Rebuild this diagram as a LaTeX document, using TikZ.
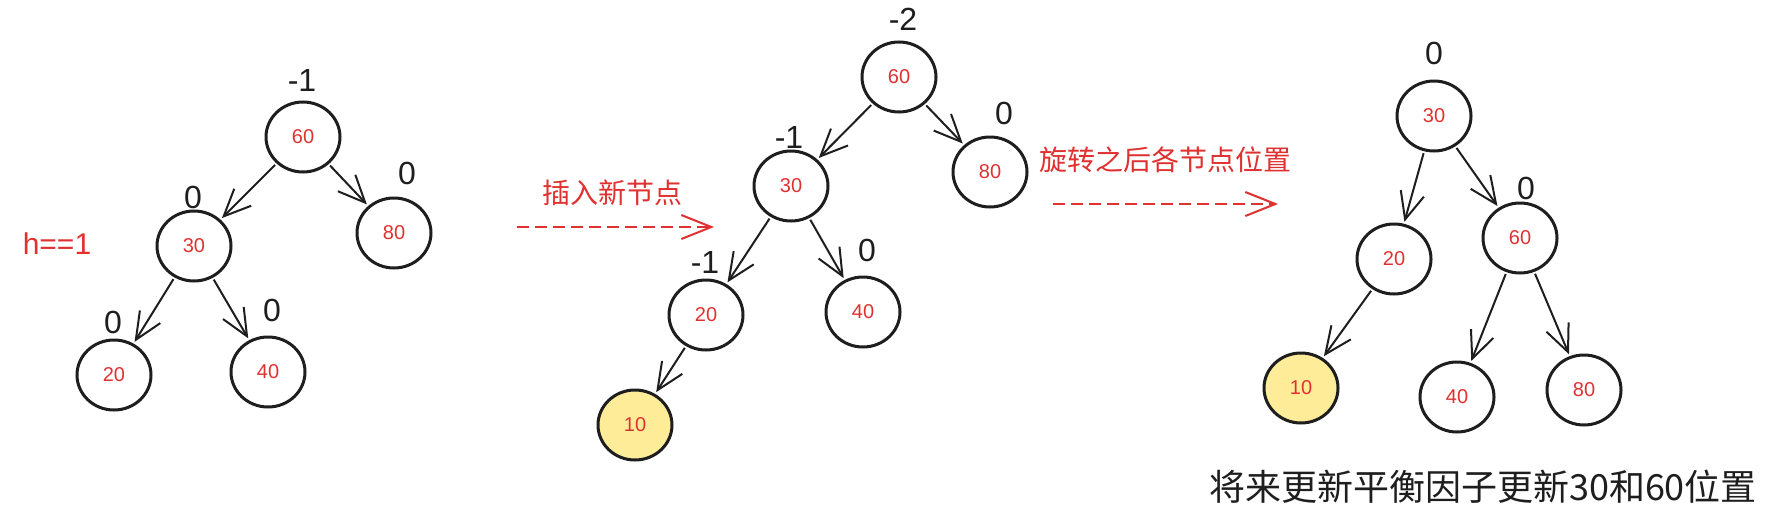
\documentclass[tikz,border=0pt]{standalone}
\usepackage{fontspec}
\setmainfont{Liberation Sans}
\newfontfamily\cjk{Noto Sans CJK SC}
\usetikzlibrary{arrows.meta,shapes.geometric}
\definecolor{exred}{HTML}{E03131}
\definecolor{exink}{HTML}{1E1E1E}
\definecolor{exyellow}{HTML}{FFEC99}
\begin{document}
\begin{tikzpicture}[x=1pt,y=-1pt,
  tnode/.style={ellipse,draw=exink,line width=3pt,minimum width=74pt,minimum height=70pt,inner sep=0pt,text=exred,font=\fontsize{20}{20}\selectfont},
  newnode/.style={tnode,fill=exyellow},
  bf/.style={text=exink,font=\fontsize{32}{32}\selectfont,inner sep=0pt},
  edge/.style={draw=exink,line width=2pt,-{Straight Barb[length=27pt,width=24pt]},shorten <=2pt,shorten >=2pt},
  note/.style={text=exred,font=\cjk\fontsize{28}{28}\selectfont,inner sep=0pt},
  dasharrow/.style={draw=exred,line width=2pt,dash pattern=on 12pt off 6pt,-{Straight Barb[length=30pt,width=24pt]}}]
\useasboundingbox (0,0) rectangle (1780,522);

% ---------- tree 1 ----------
\node[tnode] (a60) at (303,137) {60};
\node[tnode] (a30) at (194,246) {30};
\node[tnode] (a80) at (394,233) {80};
\node[tnode] (a20) at (114,375) {20};
\node[tnode] (a40) at (268,372) {40};
\node[bf] (la60) at (302,80) {-1};
\node[bf] (la30) at (193,197) {0};
\node[bf] (la80) at (407,173) {0};
\node[bf] (la20) at (113,322) {0};
\node[bf] (la40) at (272,310) {0};
\node[text=exred,font=\fontsize{30}{30}\selectfont,inner sep=0pt] (h) at (57,244) {h==1};
\draw[edge] (a60) -- (a30);
\draw[edge] (a60) -- (a80);
\draw[edge] (a30) -- (a20);
\draw[edge] (a30) -- (a40);

% ---------- arrow 1 ----------
\node[note] (t1) at (612,193) {插入新节点};
\coordinate (d1s) at (517,227);
\coordinate (d1e) at (714,227);
\draw[dasharrow] (d1s) -- (d1e);

% ---------- tree 2 ----------
\node[tnode] (b60) at (899,77) {60};
\node[tnode] (b30) at (791,186) {30};
\node[tnode] (b80) at (990,172) {80};
\node[tnode] (b20) at (706,315) {20};
\node[tnode] (b40) at (863,312) {40};
\node[newnode] (b10) at (635,425) {10};
\node[bf] (lb60) at (903,19) {-2};
\node[bf] (lb30) at (789,137) {-1};
\node[bf] (lb80) at (1004,113) {0};
\node[bf] (lb20) at (705,262) {-1};
\node[bf] (lb40) at (867,250) {0};
\draw[edge] (b60) -- (b30);
\draw[edge] (b60) -- (b80);
\draw[edge] (b30) -- (b20);
\draw[edge] (b30) -- (b40);
\draw[edge] (b20) -- (b10);

% ---------- arrow 2 ----------
\node[note] (t2) at (1165,160) {旋转之后各节点位置};
\coordinate (d2s) at (1053,204);
\coordinate (d2e) at (1278,204);
\draw[dasharrow] (d2s) -- (d2e);

% ---------- tree 3 ----------
\node[tnode] (c30) at (1434,116) {30};
\node[tnode] (c20) at (1394,259) {20};
\node[tnode] (c60) at (1520,238) {60};
\node[newnode] (c10) at (1301,388) {10};
\node[tnode] (c40) at (1457,397) {40};
\node[tnode] (c80) at (1584,390) {80};
\node[bf] (lc30) at (1434,53) {0};
\node[bf] (lc60) at (1526,188) {0};
\draw[edge] (c30) -- (c20);
\draw[edge] (c30) -- (c60);
\draw[edge] (c20) -- (c10);
\draw[edge] (c60) -- (c40);
\draw[edge] (c60) -- (c80);

\node[text=exink,font=\cjk\fontsize{36}{36}\selectfont,inner sep=0pt] (bottom) at (1483,487) {将来更新平衡因子更新30和60位置};
\end{tikzpicture}
\end{document}
